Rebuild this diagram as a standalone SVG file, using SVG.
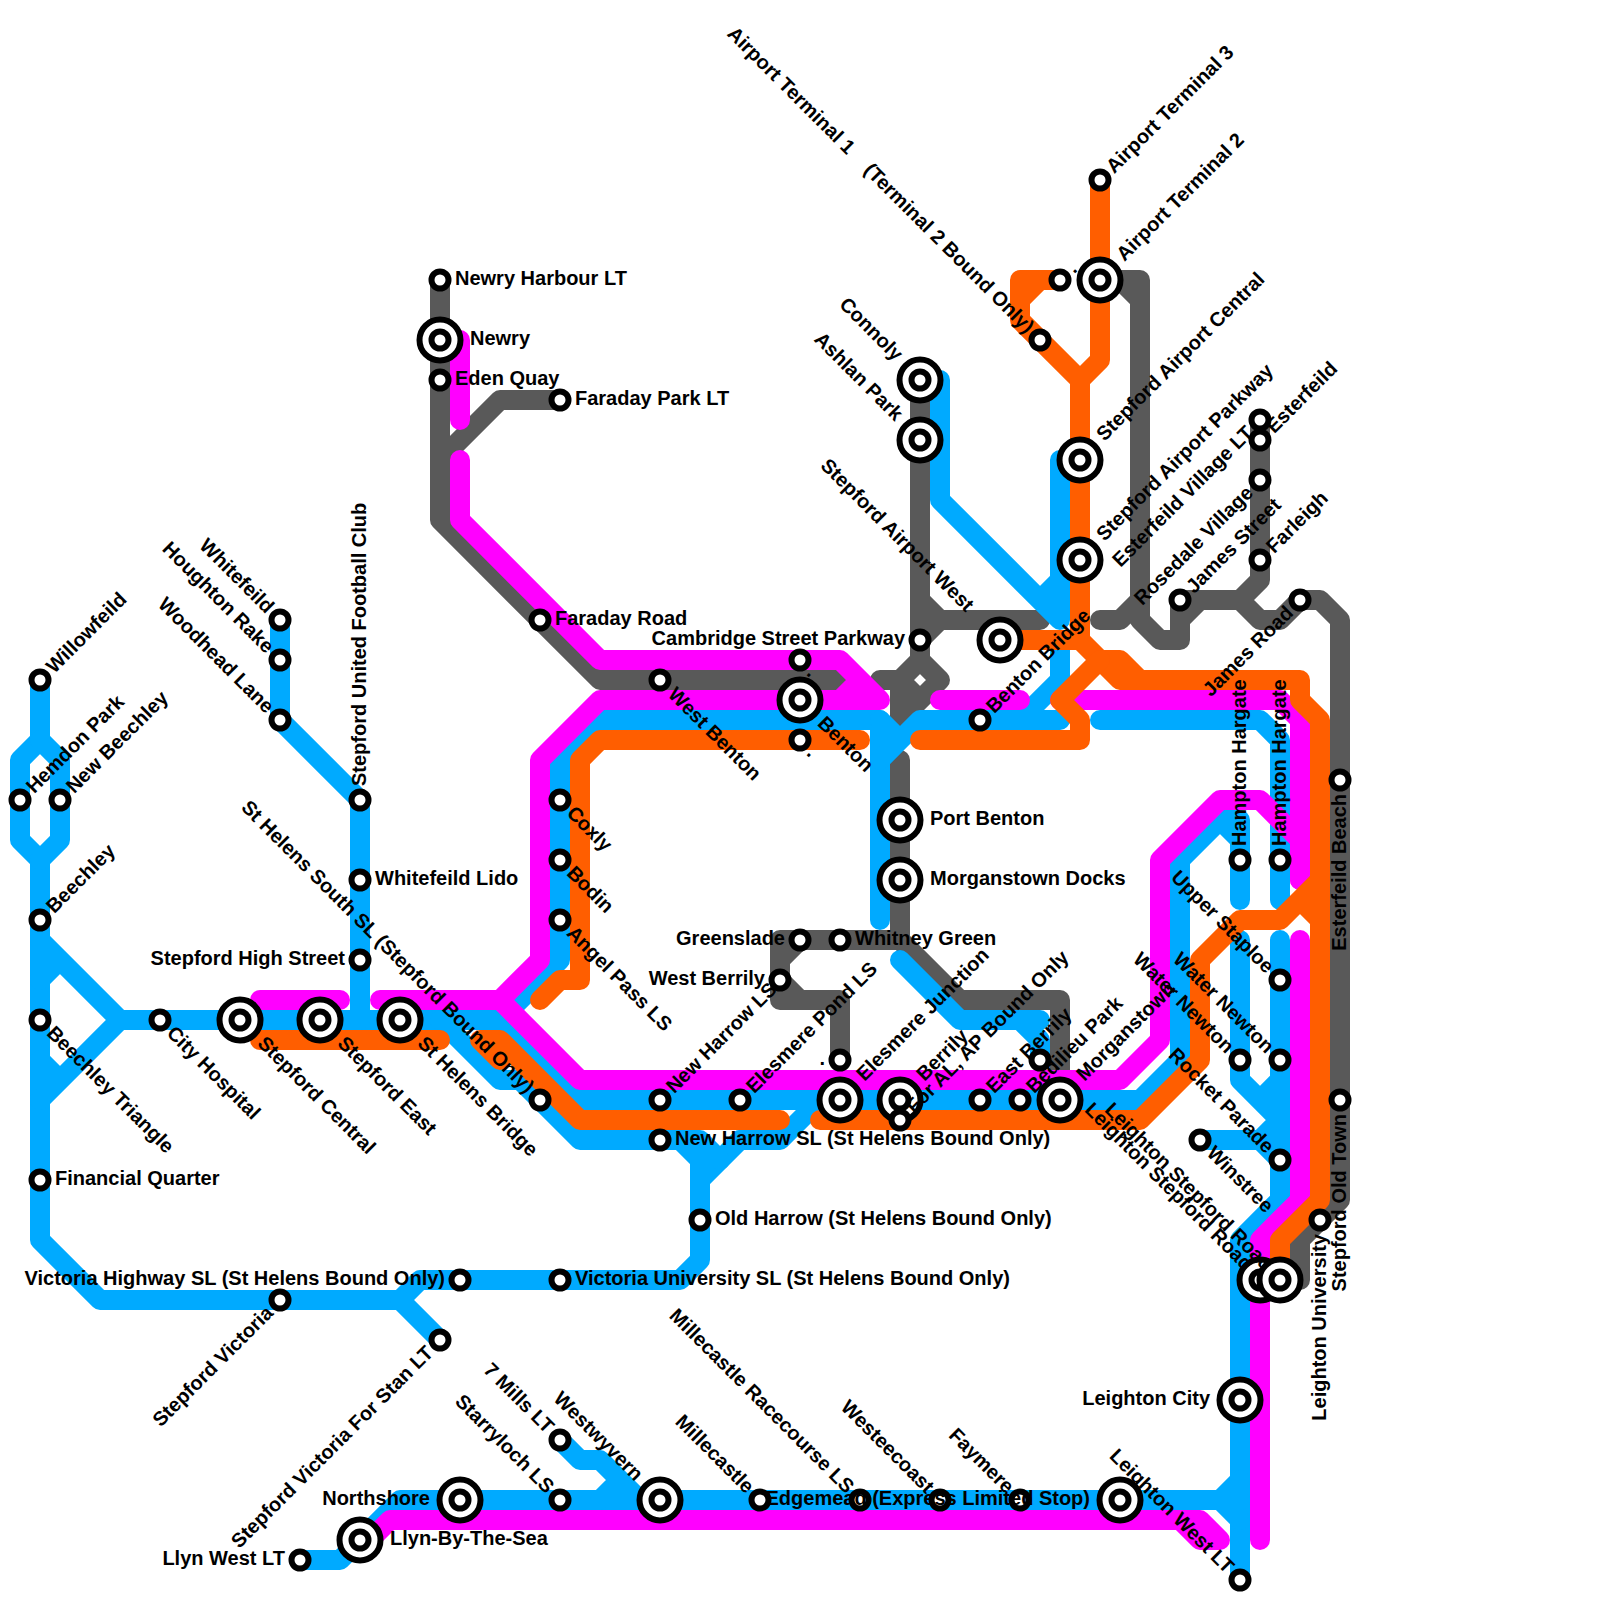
<svg xmlns="http://www.w3.org/2000/svg" width="1600" height="1600" viewBox="0 0 1600 1600">
<style>
.ln{fill:none;stroke-width:20;stroke-linecap:round;stroke-linejoin:round}
.b{stroke:#00aaff}.g{stroke:#595959}.m{stroke:#ff00ff}.o{stroke:#ff5e00}
.ring{fill:#fff;stroke:#000;stroke-width:6}
.ring2{fill:#fff;stroke:#000;stroke-width:6}
text{font-family:"Liberation Sans",Arial,sans-serif;font-weight:bold;font-size:20px;fill:#000;white-space:pre}
.r{transform:translate(15px,5px)}
.l{text-anchor:end;transform:translate(-15px,5px)}
.R{transform:translate(30px,5px)}
.L{text-anchor:end;transform:translate(-30px,5px)}
.ur{transform:rotate(-45deg) translate(14px,6px)}
.dr{transform:rotate(45deg) translate(14px,6px)}
.ul{text-anchor:end;transform:rotate(45deg) translate(-14px,6px)}
.dl{text-anchor:end;transform:rotate(-45deg) translate(-14px,6px)}
.UR{transform:rotate(-45deg) translate(30px,4.5px)}
.DR{transform:rotate(45deg) translate(29px,5.5px)}
.UL{text-anchor:end;transform:rotate(45deg) translate(-30.5px,5px)}
.u{transform:rotate(-90deg) translate(14px,6px)}
.d{text-anchor:end;transform:rotate(-90deg) translate(-14px,6px)}
</style>
<defs>
<g id="s"><circle class="ring" r="8.5"/></g>
<g id="x"><circle class="ring2" r="20.5"/><circle class="ring" r="8.5"/></g>
</defs>
<g id="connectors">
<g id="grey" class="ln g">
<path d="M440 280V520L600 680H840M560 400H500L440 460"/>
<path d="M920 380V660L940 680L920 700L900 680L920 660M880 680H900V720M920 700L900 720M920 600L940 620H1040M940 620L920 640"/>
<path d="M900 760V940L960 1000H1060V1100M900 940H780V1000H840V1060M780 960L800 940M780 980L800 1000"/>
<path d="M1100 620H1120L1140 600V280H1100M1120 280L1140 300M1140 600V620L1160 640H1180V600H1240L1260 580V420M1180 620L1200 600M1240 600L1260 620H1280L1300 600H1320L1340 620V1200L1300 1240V1280"/>
</g>
<g id="blue" class="ln b">
<path d="M40 680V740L20 760V840L40 860V1240L100 1300H400L420 1280H680L700 1260V1160L680 1140M740 1140L700 1180"/>
<path d="M40 740L60 760V840L40 860M40 940L120 1020L40 1100M40 980L60 960M40 1060L60 1080M120 1020H440L500 1080H520L580 1140H700L720 1160M740 1140H780L820 1100"/>
<path d="M400 1300L440 1340M280 620V720L360 800V1020"/>
<path d="M500 1020L580 1100H1140L1180 1060V860L1220 820H1240V900M1220 820L1240 840M440 1020H500"/>
<path d="M880 920V720H600L560 760V960L510 1010"/>
<path d="M880 720L900 740L880 760M900 740L920 720H1020L1060 680V640M1020 720H1060"/>
<path d="M940 380V500L1060 620V460M1060 580L1040 600"/>
<path d="M900 960L960 1020H1040M1020 1020L1040 1040V1060"/>
<path d="M1100 720H1260L1280 740V900M1280 940V1200L1240 1240V1580M1240 940V1080L1280 1120L1260 1140H1200M1260 1140L1280 1160M1280 1080L1260 1100"/>
<path d="M300 1560H340L400 1500H1240M1220 1500L1240 1480M1220 1500L1240 1520"/>
<path d="M560 1440L580 1460H600L640 1500M600 1500L620 1480"/>
</g>
<g id="magenta" class="ln m">
<path d="M460 340V420M460 460V520L600 660H840L880 700H600L540 760V960L500 1000H380M860 680L840 700"/>
<path d="M260 1000H340M500 1000L580 1080H1120L1160 1040V860L1220 800H1260L1300 840V880"/>
<path d="M940 700H1020M1060 700H1280L1300 720V880M1300 940V1200L1260 1240V1540"/>
<path d="M360 1550L390 1520H1200L1220 1540H1200L1180 1520"/>
</g>
<g id="orange" class="ln o">
<path d="M260 1040H440M500 1060L480 1040H500L580 1120H780M540 1000L560 980H580V760L600 740H860"/>
<path d="M820 1120H1140L1200 1060V960L1240 920H1280L1320 880M1300 900L1320 920"/>
<path d="M1100 180V360L1080 380L1020 320V280H1060M1040 280L1020 300M1080 380V640H1000M1080 640L1100 660H1120L1140 680H1300V700L1320 720V1200L1280 1240V1270M1100 660L1120 680H1140"/>
<path d="M1100 660L1060 700L1080 720V740H920"/>
</g>
</g>
<g id="nodes">
<g id="n1" transform="translate(40 680)"><use href="#s"/><text class="ur">Willowfeild</text></g>
<g id="n2" transform="translate(20 800)"><use href="#s"/><text class="ur">Hemdon Park</text></g>
<g id="n3" transform="translate(60 800)"><use href="#s"/><text class="ur">New Beechley</text></g>
<g id="n4" transform="translate(40 920)"><use href="#s"/><text class="ur">Beechley</text></g>
<g id="n5" transform="translate(40 1020)"><use href="#s"/><text class="dr">Beechley Triangle</text></g>
<g id="n6" transform="translate(160 1020)"><use href="#s"/><text class="dr">City Hospital</text></g>
<g id="n7" transform="translate(240 1020)"><use href="#x"/><text class="DR">Stepford Central</text></g>
<g id="n8" transform="translate(320 1020)"><use href="#x"/><text class="DR">Stepford East</text></g>
<g id="n9" transform="translate(400 1020)"><use href="#x"/><text class="DR">St Helens Bridge</text></g>
<g id="n10" transform="translate(40 1180)"><use href="#s"/><text class="r">Financial Quarter</text></g>
<g id="n11" transform="translate(280 620)"><use href="#s"/><text class="ul">Whitefeild</text></g>
<g id="n12" transform="translate(280 660)"><use href="#s"/><text class="ul">Houghton Rake</text></g>
<g id="n13" transform="translate(280 720)"><use href="#s"/><text class="ul">Woodhead Lane</text></g>
<g id="n14" transform="translate(360 800)"><use href="#s"/><text class="u">Stepford United Football Club</text></g>
<g id="n15" transform="translate(360 880)"><use href="#s"/><text class="r">Whitefeild Lido</text></g>
<g id="n16" transform="translate(360 960)"><use href="#s"/><text class="l">Stepford High Street</text></g>
<g id="n17" transform="translate(440 280)"><use href="#s"/><text class="r">Newry Harbour LT</text></g>
<g id="n18" transform="translate(440 340)"><use href="#x"/><text class="R">Newry</text></g>
<g id="n19" transform="translate(440 380)"><use href="#s"/><text class="r">Eden Quay</text></g>
<g id="n20" transform="translate(560 400)"><use href="#s"/><text class="r">Faraday Park LT</text></g>
<g id="n21" transform="translate(540 620)"><use href="#s"/><text class="r">Faraday Road</text></g>
<g id="n22" transform="translate(660 680)"><use href="#s"/><text class="dr" x="2">West Benton</text></g>
<g id="n23" transform="translate(920 640)"><use href="#s"/><text class="l">Cambridge Street Parkway</text></g>
<g id="n24" transform="translate(800 660)"><use href="#s"/><text class="dr">.</text></g>
<g id="n25" transform="translate(800 700)"><use href="#x"/><text class="DR">Benton</text></g>
<g id="n26" transform="translate(800 740)"><use href="#s"/><text class="dr">.</text></g>
<g id="n27" transform="translate(560 800)"><use href="#s"/><text class="dr">Coxly</text></g>
<g id="n28" transform="translate(560 860)"><use href="#s"/><text class="dr">Bodin</text></g>
<g id="n29" transform="translate(560 920)"><use href="#s"/><text class="dr">Angel Pass LS</text></g>
<g id="n30" transform="translate(540 1100)"><use href="#s"/><text class="ul">St Helens South SL (Stepford Bound Only)</text></g>
<g id="n31" transform="translate(660 1100)"><use href="#s"/><text class="ur">New Harrow LS</text></g>
<g id="n32" transform="translate(660 1140)"><use href="#s"/><text class="r">New Harrow SL (St Helens Bound Only)</text></g>
<g id="n33" transform="translate(740 1100)"><use href="#s"/><text class="ur">Elesmere Pond LS</text></g>
<g id="n34" transform="translate(840 1100)"><use href="#x"/><text class="UR">Elesmere Junction</text></g>
<g id="n35" transform="translate(840 1060)"><use href="#s"/><text class="l">.</text></g>
<g id="n36" transform="translate(800 940)"><use href="#s"/><text class="l">Greenslade</text></g>
<g id="n37" transform="translate(840 940)"><use href="#s"/><text class="r">Whitney Green</text></g>
<g id="n38" transform="translate(780 980)"><use href="#s"/><text class="l">West Berrily</text></g>
<g id="n39" transform="translate(900 820)"><use href="#x"/><text class="R">Port Benton</text></g>
<g id="n40" transform="translate(900 880)"><use href="#x"/><text class="R">Morganstown Docks</text></g>
<g id="n41" transform="translate(900 1100)"><use href="#x"/><text class="UR">Berrily</text></g>
<g id="n42" transform="translate(900 1120)"><use href="#s"/><text class="ur">For AL, AP Bound Only</text></g>
<g id="n43" transform="translate(980 1100)"><use href="#s"/><text class="ur">East Berrily</text></g>
<g id="n44" transform="translate(1020 1100)"><use href="#s"/><text class="ur">Bedilieu Park</text></g>
<g id="n45" transform="translate(1040 1060)"><use href="#s"/></g>
<g id="n46" transform="translate(1060 1100)"><use href="#x"/><text class="UR">Morganstown</text></g>
<g id="n47" transform="translate(1200 1140)"><use href="#s"/><text class="dr">Winstree</text></g>
<g id="n48" transform="translate(1240 1060)"><use href="#s"/><text class="ul">Water Newton</text></g>
<g id="n49" transform="translate(1280 1060)"><use href="#s"/><text class="ul">Water Newton</text></g>
<g id="n50" transform="translate(1280 980)"><use href="#s"/><text class="ul">Upper Staploe</text></g>
<g id="n51" transform="translate(1280 1160)"><use href="#s"/><text class="ul">Rocket Parade</text></g>
<g id="n52" transform="translate(1240 860)"><use href="#s"/><text class="u">Hampton Hargate</text></g>
<g id="n53" transform="translate(1280 860)"><use href="#s"/><text class="u">Hampton Hargate</text></g>
<g id="n54" transform="translate(1340 780)"><use href="#s"/><text class="d">Esterfeild Beach</text></g>
<g id="n55" transform="translate(1340 1100)"><use href="#s"/><text class="d">Stepford Old Town</text></g>
<g id="n56" transform="translate(1320 1220)"><use href="#s"/><text class="d">Leighton University</text></g>
<g id="n60" transform="translate(1240 1580)"><use href="#s"/><text class="ul">Leighton West LT</text></g>
<g id="n57" transform="translate(1260 1280)"><text class="UL" x="14">Leighton Stepford Road</text><use href="#x"/></g>
<g id="n58" transform="translate(1280 1280)"><text class="UL" x="14">Leighton Stepford Road</text><use href="#x"/></g>
<g id="n59" transform="translate(1240 1400)"><use href="#x"/><text class="L">Leighton City</text></g>
<g id="n61" transform="translate(460 1280)"><use href="#s"/><text class="l">Victoria Highway SL (St Helens Bound Only)</text></g>
<g id="n62" transform="translate(560 1280)"><use href="#s"/><text class="r">Victoria University SL (St Helens Bound Only)</text></g>
<g id="n63" transform="translate(700 1220)"><use href="#s"/><text class="r">Old Harrow (St Helens Bound Only)</text></g>
<g id="n64" transform="translate(280 1300)"><use href="#s"/><text class="dl">Stepford Victoria</text></g>
<g id="n65" transform="translate(440 1340)"><use href="#s"/><text class="dl">Stepford Victoria For Stan LT</text></g>
<g id="n66" transform="translate(560 1440)"><use href="#s"/><text class="ul">7 Mills LT</text></g>
<g id="n67" transform="translate(560 1500)"><use href="#s"/><text class="ul">Starryloch LS</text></g>
<g id="n68" transform="translate(660 1500)"><use href="#x"/><text class="UL">Westwyvern</text></g>
<g id="n69" transform="translate(460 1500)"><use href="#x"/><text class="L">Northshore</text></g>
<g id="n70" transform="translate(360 1540)"><use href="#x"/><text class="R">Llyn-By-The-Sea</text></g>
<g id="n71" transform="translate(300 1560)"><use href="#s"/><text class="l">Llyn West LT</text></g>
<g id="n72" transform="translate(760 1500)"><use href="#s"/><text class="ul">Millecastle</text></g>
<g id="n73" transform="translate(860 1500)"><use href="#s"/><text class="ul">Millecastle Racecourse LS</text></g>
<g id="n74" transform="translate(940 1500)"><use href="#s"/><text class="ul">Westeecoast</text></g>
<g id="n75" transform="translate(1020 1500)"><use href="#s"/><text class="ul">Faymere</text></g>
<g id="n76" transform="translate(1120 1500)"><use href="#x"/><text class="L">Edgemead (Express Limited Stop)</text></g>
<g id="n77" transform="translate(1100 180)"><use href="#s"/><text class="ur">Airport Terminal 3</text></g>
<g id="n78" transform="translate(1100 280)"><use href="#x"/><text class="UR">Airport Terminal 2</text></g>
<g id="n79" transform="translate(1060 280)"><use href="#s"/><text class="ur">.</text></g>
<g id="n80" transform="translate(1040 340)"><use href="#s"/><text class="ul">Airport Terminal 1    (Terminal 2 Bound Only)</text></g>
<g id="n81" transform="translate(1080 460)"><use href="#x"/><text class="UR">Stepford Airport Central</text></g>
<g id="n82" transform="translate(1080 560)"><use href="#x"/><text class="UR">Stepford Airport Parkway</text></g>
<g id="n83" transform="translate(920 380)"><use href="#x"/><text class="UL">Connoly</text></g>
<g id="n84" transform="translate(920 440)"><use href="#x"/><text class="UL">Ashlan Park</text></g>
<g id="n85" transform="translate(1000 640)"><use href="#x"/><text class="UL" x="-13">Stepford Airport West</text></g>
<g id="n86" transform="translate(980 720)"><use href="#s"/><text class="ur">Benton Bridge</text></g>
<g id="n87" transform="translate(1260 440)"><use href="#s"/><text class="ur">Esterfeild</text></g>
<g id="n88" transform="translate(1260 420)"><use href="#s"/><text class="dl">Esterfeild Village LT</text></g>
<g id="n89" transform="translate(1260 480)"><use href="#s"/><text class="dl">Rosedale Village</text></g>
<g id="n90" transform="translate(1260 560)"><use href="#s"/><text class="ur">Farleigh</text></g>
<g id="n91" transform="translate(1180 600)"><use href="#s"/><text class="ur">James Street</text></g>
<g id="n92" transform="translate(1300 600)"><use href="#s"/><text class="dl">James Road</text></g>
</g>
</svg>
